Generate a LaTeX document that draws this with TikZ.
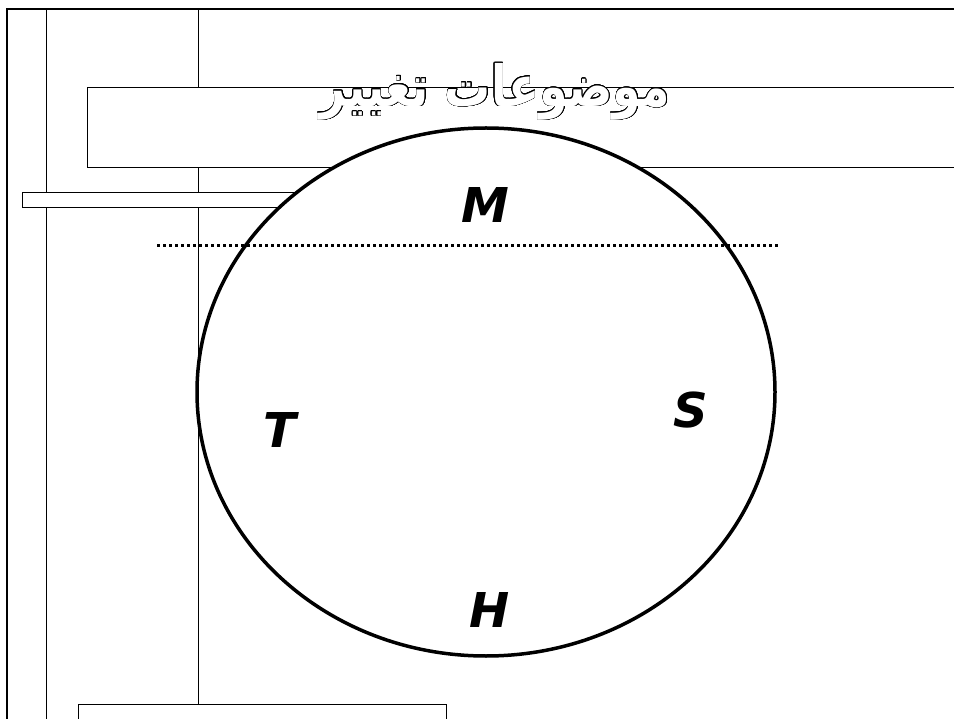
\documentclass[tikz,border=0pt]{standalone}
\usepackage{fontspec}
\usepackage{contour}
\usetikzlibrary{positioning}
\TeXXeTstate=1
\newfontfamily\arabicfont[Script=Arabic]{DejaVu Sans}
\newfontfamily\letterfont{DejaVu Sans}
\contourlength{0.7pt}
\contournumber{24}

\begin{document}
\begin{tikzpicture}[x=1pt,y=-1pt,
  thinline/.style={line width=1pt},
  letter/.style={font=\letterfont\bfseries\itshape\fontsize{48}{52}\selectfont}]
\useasboundingbox (0,0) rectangle (954,719);
% frame and guide lines
\draw[line width=2.6pt] (7,722) -- (7,9) -- (958,9);
\draw[thinline] (46,9) -- (46,722);
\draw[thinline] (198,9) -- (198,704);
% boxes
\draw[thinline,fill=white] (87,88) rectangle (960,168);
\draw[thinline,fill=white] (22,193) rectangle (300,208);
\draw[thinline,fill=white] (78,704) rectangle (446,725);
% circle
\draw[line width=3.5pt,fill=white] (486,392) ellipse (289 and 264);
\draw[line width=3pt,dash pattern=on 3pt off 3pt] (157,246) -- (778,246);
% title
\node (title) at (495,92) {\scalebox{0.85}[1.05]{\contour{black}{\textcolor{white}{\arabicfont\bfseries\fontsize{54}{60}\selectfont\beginR موضوعات تغيير\endR}}}};
% letters
\node[letter] (m) at (485,205) {M};
\node[letter] (t) at (280,430) {T};
\node[letter] (s) at (691,410) {S};
\node[letter] (h) at (490,610) {H};
\end{tikzpicture}
\end{document}
